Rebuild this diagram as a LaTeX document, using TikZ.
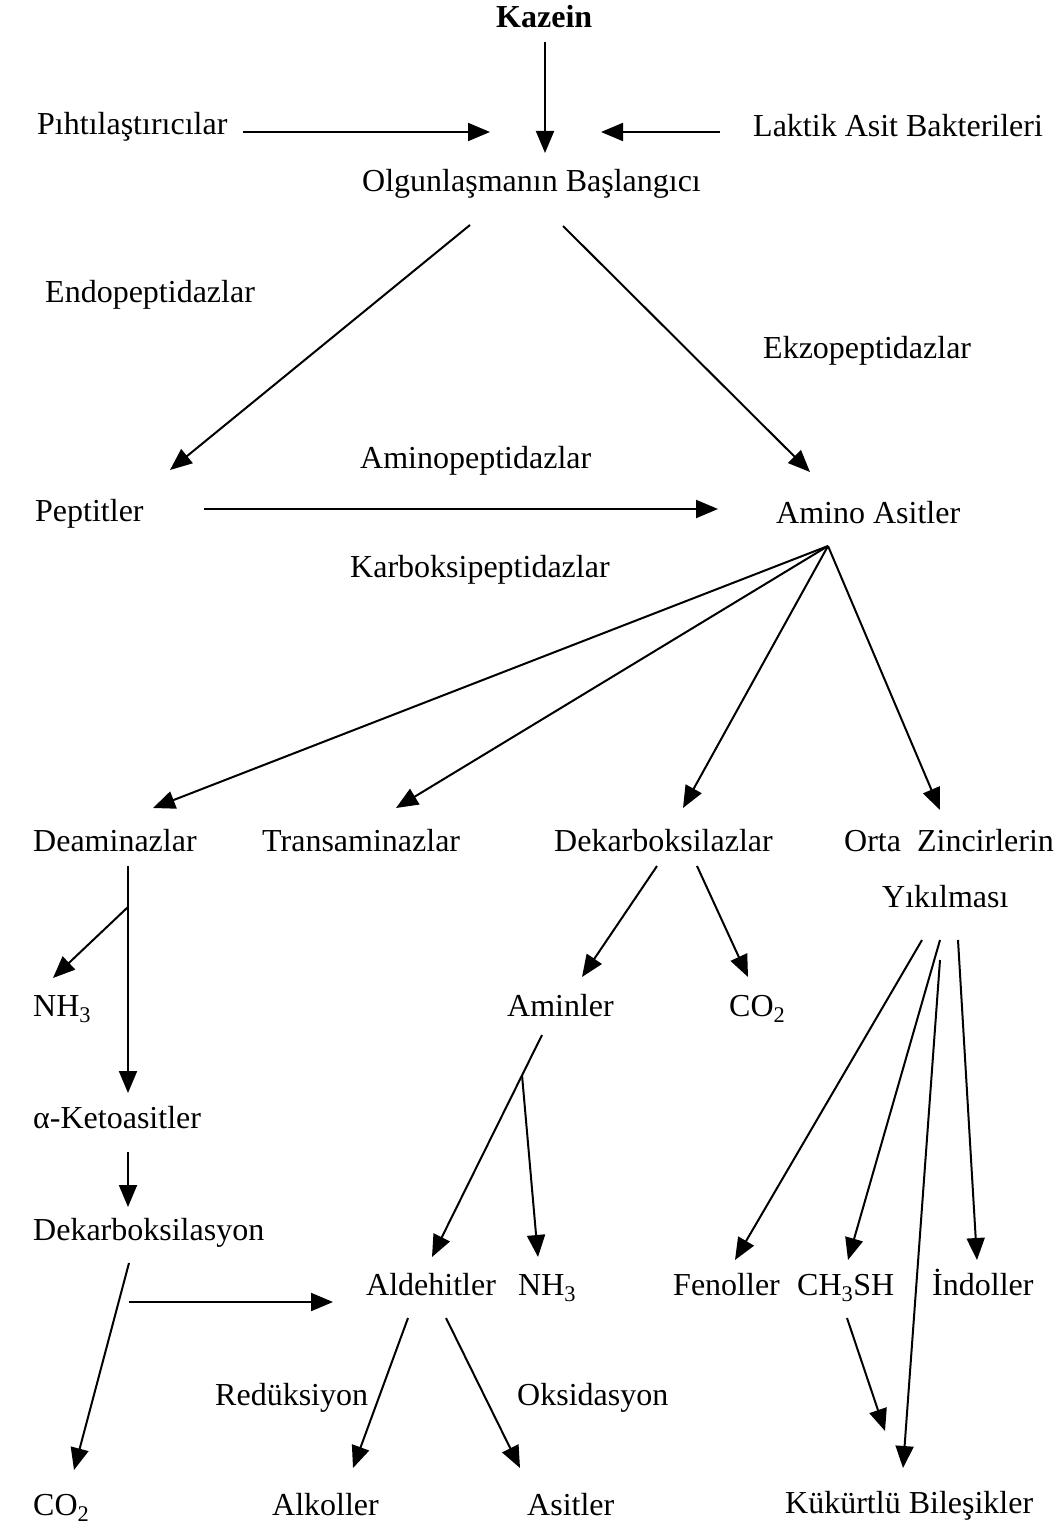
\documentclass[tikz,border=0pt]{standalone}
\usepackage{fontspec}
\setmainfont{Liberation Serif}
\usetikzlibrary{arrows.meta}

\begin{document}
\begin{tikzpicture}[
    x=1pt, y=-1pt,
    lbl/.style={anchor=base west, inner sep=0pt, font=\fontsize{32}{38}\selectfont},
    arr/.style={-{Triangle[length=22pt,width=18pt]}, line width=2pt}
]
\useasboundingbox (0,0) rectangle (1059,1525);

% top part
\node[lbl, font=\fontsize{32}{38}\selectfont\bfseries] (kazein) at (496,28) {Kazein};
\node[lbl] (pihti) at (37,135) {Pıhtılaştırıcılar};
\node[lbl] (laktik) at (753,137) {Laktik Asit Bakterileri};
\node[lbl] (olgun) at (362,192) {Olgunlaşmanın Başlangıcı};
\node[lbl] (endo) at (45,302) {Endopeptidazlar};
\node[lbl] (ekzo) at (763,358) {Ekzopeptidazlar};
\node[lbl] (aminop) at (360,468) {Aminopeptidazlar};
\node[lbl] (pept) at (35,521) {Peptitler};
\node[lbl] (amino) at (776,523) {Amino Asitler};
\node[lbl] (karb) at (350,577) {Karboksipeptidazlar};

% enzymes
\node[lbl] (deam) at (33,851) {Deaminazlar};
\node[lbl] (trans) at (262,851) {Transaminazlar};
\node[lbl] (dekarb) at (554,851) {Dekarboksilazlar};
\node[lbl] (orta) at (844,851) {Orta\ \ Zincirlerin};
\node[lbl] (yik) at (882,907) {Yıkılması};

% products
\node[lbl] (nhA) at (33,1016) {NH\textsubscript{3}};
\node[lbl] (aminler) at (507,1016) {Aminler};
\node[lbl] (coA) at (729,1016) {CO\textsubscript{2}};
\node[lbl] (keto) at (33,1128) {α-Ketoasitler};
\node[lbl] (dekarbs) at (33,1240) {Dekarboksilasyon};
\node[lbl] (ald) at (366,1295) {Aldehitler};
\node[lbl] (nhB) at (518,1295) {NH\textsubscript{3}};
\node[lbl] (fen) at (673,1295) {Fenoller};
\node[lbl] (ch) at (797,1295) {CH\textsubscript{3}SH};
\node[lbl] (indol) at (932,1295) {İndoller};
\node[lbl] (red) at (215,1405) {Redüksiyon};
\node[lbl] (oks) at (517,1405) {Oksidasyon};
\node[lbl] (coB) at (33,1515) {CO\textsubscript{2}};
\node[lbl] (alk) at (272,1515) {Alkoller};
\node[lbl] (asit) at (527,1515) {Asitler};
\node[lbl] (kuk) at (785,1513) {Kükürtlü Bileşikler};

% arrows
\draw[arr] ([shift={(49,14)}]kazein.base west) -- ([shift={(183,-39)}]olgun.base west);
\draw[arr] ([shift={(206,-3)}]pihti.base west) -- ([shift={(128,-60)}]olgun.base west);
\draw[arr] ([shift={(-33,-5)}]laktik.base west) -- ([shift={(239,-60)}]olgun.base west);
\draw[arr] ([shift={(108,33)}]olgun.base west) -- ([shift={(135,-51)}]pept.base west);
\draw[arr] ([shift={(201,34)}]olgun.base west) -- ([shift={(34,-51)}]amino.base west);
\draw[arr] ([shift={(169,-12)}]pept.base west) -- ([shift={(-58,-14)}]amino.base west);

\coordinate (fan) at ([shift={(52,23)}]amino.base west);
\draw[arr] (fan) -- ([shift={(120,-43)}]deam.base west);
\draw[arr] (fan) -- ([shift={(134,-43)}]trans.base west);
\draw[arr] (fan) -- ([shift={(129,-43)}]dekarb.base west);
\draw[arr] (fan) -- ([shift={(96,-41)}]orta.base west);

\draw[arr] ([shift={(95,15)}]deam.base west) -- ([shift={(95,-35)}]keto.base west);
\draw[arr] ([shift={(95,56)}]deam.base west) -- ([shift={(20,-38)}]nhA.base west);
\draw[arr] ([shift={(95,24)}]keto.base west) -- ([shift={(95,-33)}]dekarbs.base west);
\draw[arr] ([shift={(96,23)}]dekarbs.base west) -- ([shift={(41,-45)}]coB.base west);
\draw[arr] ([shift={(96,62)}]dekarbs.base west) -- ([shift={(-33,7)}]ald.base west);

\draw[arr] ([shift={(103,15)}]dekarb.base west) -- ([shift={(75,-39)}]aminler.base west);
\draw[arr] ([shift={(143,15)}]dekarb.base west) -- ([shift={(19,-39)}]coA.base west);
\draw[arr] ([shift={(35,19)}]aminler.base west) -- ([shift={(66,-38)}]ald.base west);
\draw[arr] ([shift={(15,59)}]aminler.base west) -- ([shift={(20,-38)}]nhB.base west);

\draw[arr] ([shift={(40,33)}]yik.base west) -- ([shift={(62,-35)}]fen.base west);
\draw[arr] ([shift={(58,33)}]yik.base west) -- ([shift={(51,-35)}]ch.base west);
\draw[arr] ([shift={(76,33)}]yik.base west) -- ([shift={(45,-35)}]indol.base west);
\draw[arr] ([shift={(58,53)}]yik.base west) -- ([shift={(118,-45)}]kuk.base west);
\draw[arr] ([shift={(50,23)}]ch.base west) -- ([shift={(100,-82)}]kuk.base west);

\draw[arr] ([shift={(42,23)}]ald.base west) -- ([shift={(81,-47)}]alk.base west);
\draw[arr] ([shift={(80,23)}]ald.base west) -- ([shift={(-7,-47)}]asit.base west);
\end{tikzpicture}
\end{document}
